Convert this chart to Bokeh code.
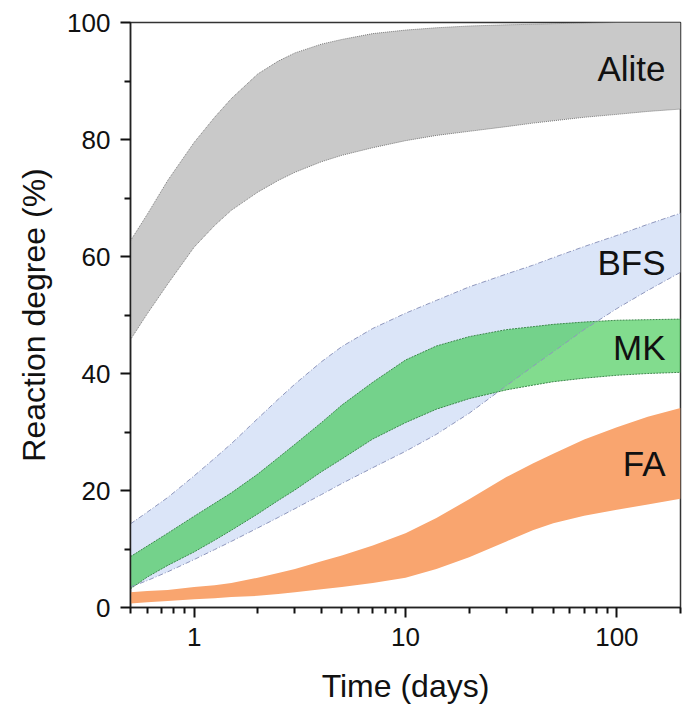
from bokeh.plotting import figure
from bokeh.models import Label, FixedTicker, Range1d, ColumnDataSource
from bokeh.embed import file_html
from bokeh.resources import INLINE

# Time (days)
days = [0.5, 0.6, 0.75, 1, 1.25, 1.5, 2, 2.5, 3, 4, 5, 7, 10, 14, 20, 30, 40, 50, 70, 100, 140, 200]

# Reaction degree (%) bands: lower / upper bounds
alite_lo = [45.8, 50.2, 55.3, 61.6, 65.3, 67.9, 71.0, 73.0, 74.4, 76.2, 77.3, 78.6, 79.8,
            80.7, 81.4, 82.2, 82.8, 83.2, 83.8, 84.3, 84.8, 85.2]
alite_hi = [62.7, 67.2, 73.0, 79.5, 83.8, 87.0, 91.2, 93.4, 94.8, 96.3, 97.1, 98.1, 98.7,
            99.1, 99.4, 99.6, 99.7, 99.8, 99.9, 100.0, 100.0, 100.0]

bfs_lo = [3.5, 4.6, 6.1, 8.2, 9.9, 11.3, 13.6, 15.4, 16.9, 19.3, 21.2, 23.9, 26.7,
          29.6, 33.2, 37.9, 41.2, 43.7, 47.5, 51.1, 54.2, 57.3]
bfs_hi = [14.3, 16.3, 18.8, 22.5, 25.5, 28.0, 32.3, 35.6, 38.2, 42.0, 44.6, 47.7, 50.3,
          52.5, 54.8, 57.0, 58.5, 59.8, 61.7, 63.6, 65.5, 67.4]

mk_lo = [3.2, 5.2, 7.2, 9.5, 11.5, 13.2, 16.0, 18.3, 20.1, 23.2, 25.4, 28.8, 31.6,
         33.9, 35.7, 37.2, 38.0, 38.6, 39.2, 39.7, 40.0, 40.2]
mk_hi = [8.7, 10.5, 12.7, 15.6, 17.8, 19.6, 22.8, 25.6, 27.9, 31.6, 34.6, 38.5, 42.3,
         44.7, 46.3, 47.5, 48.0, 48.4, 48.8, 49.1, 49.2, 49.3]

fa_lo = [0.7, 0.9, 1.1, 1.4, 1.6, 1.8, 2.0, 2.3, 2.6, 3.1, 3.5, 4.2, 5.1,
         6.6, 8.6, 11.3, 13.2, 14.4, 15.7, 16.7, 17.6, 18.6]
fa_hi = [2.6, 2.8, 3.0, 3.5, 3.8, 4.2, 5.1, 5.9, 6.6, 7.9, 8.9, 10.6, 12.7,
         15.3, 18.5, 22.3, 24.6, 26.3, 28.7, 30.8, 32.6, 34.1]

band_names = ["Alite", "BFS", "MK", "FA"]
label_y = [92.2, 59.0, 44.5, 24.6]

x_major = [1, 10, 100]
x_minor = [0.5, 0.6, 0.7, 0.8, 0.9, 2, 3, 4, 5, 6, 7, 8, 9, 20, 30, 40, 50, 60, 70, 80, 90, 200]
y_major = [0, 20, 40, 60, 80, 100]
y_minor = [10, 30, 50, 70, 90]

src = ColumnDataSource(dict(x=days, alo=alite_lo, ahi=alite_hi, blo=bfs_lo, bhi=bfs_hi,
                            mlo=mk_lo, mhi=mk_hi, flo=fa_lo, fhi=fa_hi))

FONT = "Liberation Sans"

p = figure(width=692, height=714, x_axis_type="log",
           x_range=Range1d(0.5, 200), y_range=Range1d(0, 100),
           output_backend="svg", toolbar_location=None,
           min_border_left=130, min_border_right=12, min_border_top=22, min_border_bottom=107,
           background_fill_color="white", border_fill_color="white")

p.grid.visible = False
p.outline_line_color = "#333333"
p.outline_line_width = 1.5

# Alite
p.varea(x="x", y1="alo", y2="ahi", source=src, fill_color="#c9c9c9")
p.line(x="x", y="alo", source=src, line_color="#7a7a7a", line_width=1, line_dash="1 1")
p.line(x="x", y="ahi", source=src, line_color="#7a7a7a", line_width=1, line_dash="1 1")

# BFS
p.varea(x="x", y1="blo", y2="bhi", source=src, fill_color="#dbe5f8")

# MK
p.varea(x="x", y1="mlo", y2="mhi", source=src, fill_color="#2fc442", fill_alpha=0.6)
p.line(x="x", y="mlo", source=src, line_color="#3d8a4c", line_width=1, line_dash="2 1")
p.line(x="x", y="mhi", source=src, line_color="#3d8a4c", line_width=1, line_dash="2 1")

# BFS borders on top
p.line(x="x", y="blo", source=src, line_color="#8f97bd", line_width=1, line_dash="5 2 1 2")
p.line(x="x", y="bhi", source=src, line_color="#8f97bd", line_width=1, line_dash="5 2 1 2")

# FA
p.varea(x="x", y1="flo", y2="fhi", source=src, fill_color="#f9a56f")

for name, yy in zip(band_names, label_y):
    p.add_layout(Label(x=200, y=yy, x_offset=-15, text=name, text_align="right",
                       text_baseline="middle", text_font=FONT, text_font_size="35px",
                       text_color="#111111"))

for ax in (p.xaxis[0], p.yaxis[0]):
    ax.axis_line_color = "#222222"
    ax.axis_line_width = 1.5
    ax.major_tick_line_color = "#111111"
    ax.minor_tick_line_color = "#111111"
    ax.major_tick_line_width = 2
    ax.minor_tick_line_width = 2
    ax.major_tick_in = 0
    ax.major_tick_out = 10
    ax.minor_tick_in = 0
    ax.minor_tick_out = 6
    ax.major_label_text_font = FONT
    ax.major_label_text_font_size = "26px"
    ax.major_label_text_color = "#111111"
    ax.axis_label_text_font = FONT
    ax.axis_label_text_font_size = "32px"
    ax.axis_label_text_font_style = "normal"
    ax.axis_label_text_color = "#111111"

p.xaxis.ticker = FixedTicker(ticks=x_major, minor_ticks=x_minor)
p.yaxis.ticker = FixedTicker(ticks=y_major, minor_ticks=y_minor)
p.xaxis.major_label_overrides = {1: "1", 10: "10", 100: "100"}
p.xaxis.major_label_standoff = 10
p.yaxis.major_label_standoff = 10
p.xaxis.axis_label = "Time (days)"
p.yaxis.axis_label = "Reaction degree (%)"
p.xaxis.axis_label_standoff = 19
p.yaxis.axis_label_standoff = 12

open("out.html", "w").write(file_html(p, INLINE))
